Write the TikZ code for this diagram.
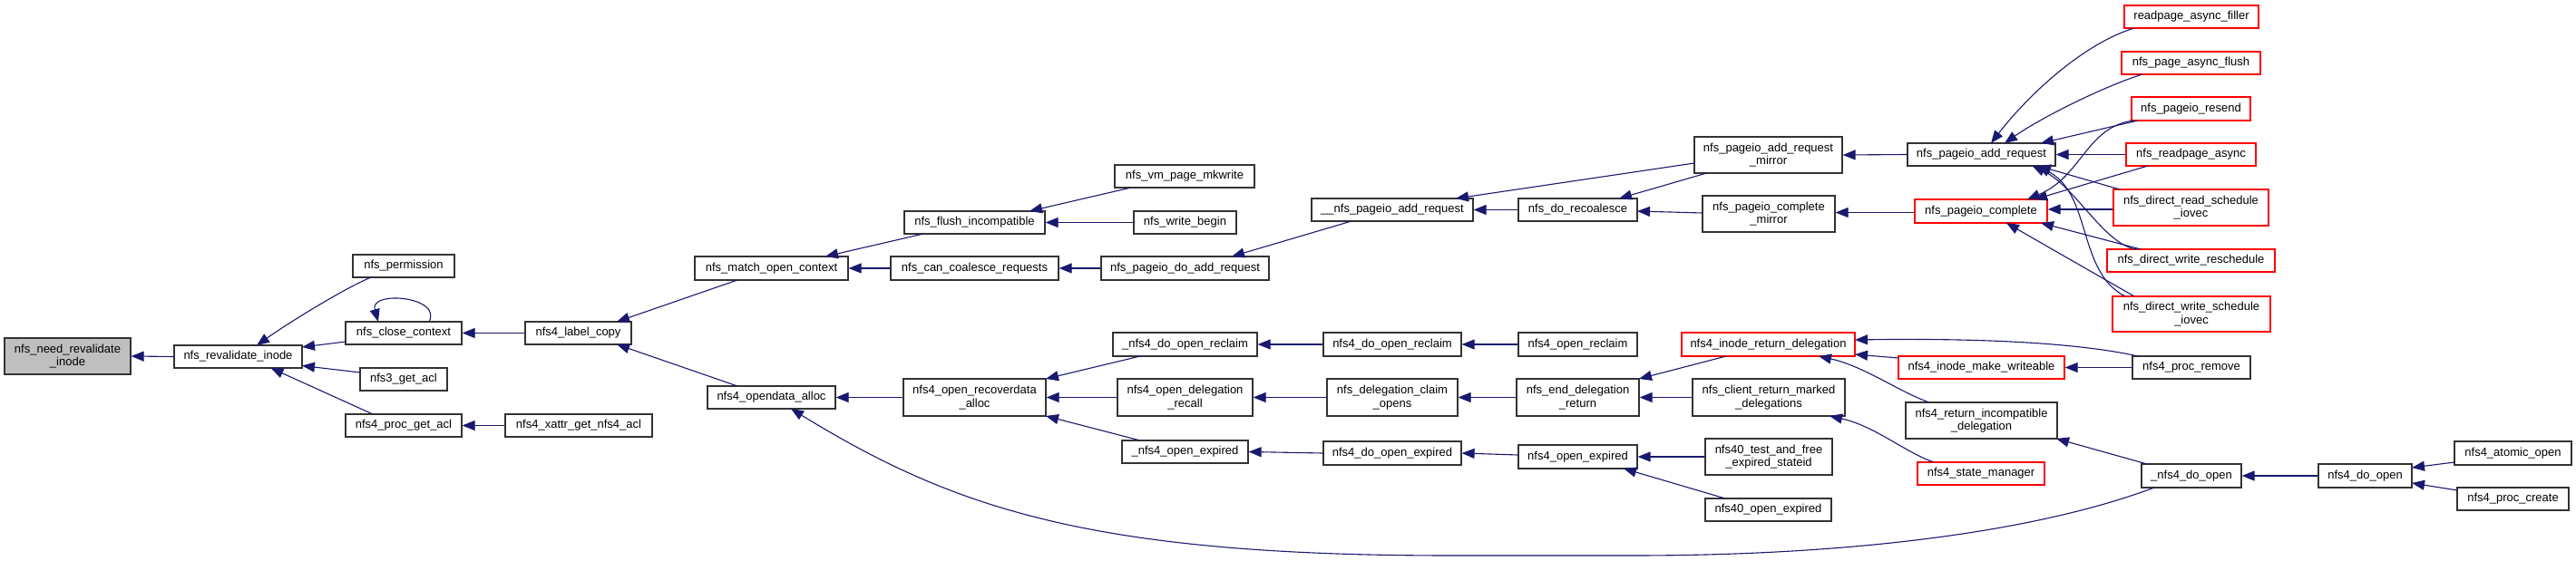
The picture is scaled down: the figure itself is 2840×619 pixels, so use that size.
\documentclass[tikz,border=0pt]{standalone}
\usepackage{fontspec}
\newfontfamily\libsans{Liberation Sans}
\usetikzlibrary{arrows.meta,calc}
\definecolor{edgeblue}{HTML}{191970}
\definecolor{curgray}{HTML}{BFBFBF}
\newcommand\nfnt{\libsans\fontsize{6.5}{7.2}\selectfont}
\tikzset{
  nd/.style={draw=black!80, line width=0.6pt, fill=white, inner sep=0pt, align=center, font=\nfnt},
  trunc/.style={nd, draw=red},
  cur/.style={nd, fill=curgray},
  sz/.style 2 args={minimum width=#1*0.5pt, minimum height=#2*0.5pt},
  edge/.style={draw=edgeblue, line width=0.55pt, -{Triangle[length=7pt,width=5.5pt]}},
}
\begin{document}
\begin{tikzpicture}[x=0.5pt,y=-0.5pt]
\useasboundingbox (0,0) rectangle (2840,619);
% nodes
\node[cur,sz={139}{40}] (need) at (74.5,393) {nfs\_need\_revalidate\\\_inode};
\node[nd,sz={141}{25}] (reval) at (262.5,393.5) {nfs\_revalidate\_inode};
\node[nd,sz={112}{25}] (perm) at (445,293.5) {nfs\_permission};
\node[nd,sz={128}{25}] (close) at (445,367.5) {nfs\_close\_context};
\node[nd,sz={96}{25}] (acl3) at (445,418.5) {nfs3\_get\_acl};
\node[nd,sz={128}{25}] (pgacl) at (445,469.5) {nfs4\_proc\_get\_acl};
\node[nd,sz={117}{25}] (label) at (637.5,367.5) {nfs4\_label\_copy};
\node[nd,sz={162}{25}] (xattr) at (638,469.5) {nfs4\_xattr\_get\_nfs4\_acl};
\node[nd,sz={169}{26}] (match) at (850.5,296) {nfs\_match\_open\_context};
\node[nd,sz={141}{25}] (odalloc) at (850.5,438.5) {nfs4\_opendata\_alloc};
\node[nd,sz={155}{25}] (flush) at (1074.5,245.5) {nfs\_flush\_incompatible};
\node[nd,sz={185}{26}] (canco) at (1074.5,296) {nfs\_can\_coalesce\_requests};
\node[nd,sz={157}{41}] (recov) at (1074.5,438.5) {nfs4\_open\_recoverdata\\\_alloc};
\node[nd,sz={154}{25}] (mkw) at (1306,194.5) {nfs\_vm\_page\_mkwrite};
\node[nd,sz={113}{25}] (wbeg) at (1306.5,245.5) {nfs\_write\_begin};
\node[nd,sz={185}{26}] (doadd) at (1306.5,296) {nfs\_pageio\_do\_add\_request};
\node[nd,sz={159}{26}] (dreclaimu) at (1306.5,380) {\_nfs4\_do\_open\_reclaim};
\node[nd,sz={149}{41}] (delrecall) at (1306.5,438.5) {nfs4\_open\_delegation\\\_recall};
\node[nd,sz={139}{25}] (oexpu) at (1306.5,498.5) {\_nfs4\_open\_expired};
\node[nd,sz={178}{25}] (uuadd) at (1535,231.5) {\_\_nfs\_pageio\_add\_request};
\node[nd,sz={152}{26}] (doreclaim) at (1535,380) {nfs4\_do\_open\_reclaim};
\node[nd,sz={144}{41}] (claim) at (1535,438.5) {nfs\_delegation\_claim\\\_opens};
\node[nd,sz={152}{26}] (doexp) at (1535,500) {nfs4\_do\_open\_expired};
\node[nd,sz={131}{25}] (recoal) at (1739.5,231.5) {nfs\_do\_recoalesce};
\node[nd,sz={131}{26}] (oreclaim) at (1739.5,380) {nfs4\_open\_reclaim};
\node[nd,sz={135}{41}] (enddel) at (1739.5,438.5) {nfs\_end\_delegation\\\_return};
\node[nd,sz={131}{26}] (oexp) at (1739.5,504) {nfs4\_open\_expired};
\node[nd,sz={163}{40}] (addmir) at (1949.5,171) {nfs\_pageio\_add\_request\\\_mirror};
\node[nd,sz={146}{40}] (compmir) at (1950,236) {nfs\_pageio\_complete\\\_mirror};
\node[trunc,sz={191}{26}] (iret) at (1949.5,380) {nfs4\_inode\_return\_delegation};
\node[nd,sz={168}{41}] (client) at (1950,438.5) {nfs\_client\_return\_marked\\\_delegations};
\node[nd,sz={140}{40}] (t40) at (1950,504) {nfs40\_test\_and\_free\\\_expired\_stateid};
\node[nd,sz={139}{25}] (o40) at (1949.5,562.5) {nfs40\_open\_expired};
\node[nd,sz={163}{25}] (padd) at (2184.5,170.5) {nfs\_pageio\_add\_request};
\node[trunc,sz={146}{26}] (pcomp) at (2184,233) {nfs\_pageio\_complete};
\node[trunc,sz={183}{25}] (mkwr) at (2184.5,405.5) {nfs4\_inode\_make\_writeable};
\node[nd,sz={167}{40}] (retinc) at (2184.5,464) {nfs4\_return\_incompatible\\\_delegation};
\node[trunc,sz={140}{25}] (stman) at (2184,522.5) {nfs4\_state\_manager};
\node[trunc,sz={148}{25}] (filler) at (2416,18.5) {readpage\_async\_filler};
\node[trunc,sz={153}{25}] (flushas) at (2415.5,69.5) {nfs\_page\_async\_flush};
\node[trunc,sz={131}{26}] (resend) at (2415.5,120) {nfs\_pageio\_resend};
\node[trunc,sz={143}{25}] (rpa) at (2415.5,170.5) {nfs\_readpage\_async};
\node[trunc,sz={171}{40}] (drs) at (2415.5,229) {nfs\_direct\_read\_schedule\\\_iovec};
\node[trunc,sz={185}{25}] (dwr) at (2415.5,287.5) {nfs\_direct\_write\_reschedule};
\node[trunc,sz={174}{39}] (dws) at (2416,346.5) {nfs\_direct\_write\_schedule\\\_iovec};
\node[nd,sz={130}{25}] (prem) at (2416,405.5) {nfs4\_proc\_remove};
\node[nd,sz={110}{26}] (udoopen) at (2416,525) {\_nfs4\_do\_open};
\node[nd,sz={103}{26}] (doopen) at (2607.5,525) {nfs4\_do\_open};
\node[nd,sz={129}{26}] (atomic) at (2770.5,500) {nfs4\_atomic\_open};
\node[nd,sz={123}{25}] (pcreate) at (2770.5,550.5) {nfs4\_proc\_create};
% edges
\draw[edge] (reval.west) -- (need.east);
\draw[edge] ($(perm)+(-36,12.5)$) .. controls +(-29,12) and +(37,-26) .. ($(reval)+(20.5,-12.5)$);
\draw[edge] ($(close)+(-64,9.5)$) -- ($(reval)+(70.5,-10.5)$);
\draw[edge] ($(acl3)+(-48,-7.5)$) -- ($(reval)+(70.5,10)$);
\draw[edge] ($(pgacl)+(-34,-12.5)$) -- ($(reval)+(36,12.5)$);
\draw[edge] ($(close)+(28,-12.5)$) .. controls +(15,-28) and +(-10,-35) .. ($(close)+(-28,-12.5)$);
\draw[edge] (label.west) -- (close.east);
\draw[edge] (xattr.west) -- (pgacl.east);
\draw[edge] ($(match)+(-37.5,13)$) -- ($(label)+(42.5,-12.5)$);
\draw[edge] ($(odalloc)+(-37.5,-12.5)$) -- ($(label)+(42.5,12.5)$);
\draw[edge] ($(flush)+(-56.5,12.5)$) -- ($(match)+(59.5,-13)$);
\draw[edge] (canco.west) -- (match.east);
\draw[edge] ($(mkw)+(-59,12.5)$) -- ($(flush)+(60.5,-12.5)$);
\draw[edge] (wbeg.west) -- (flush.east);
\draw[edge] (doadd.west) -- (canco.east);
\draw[edge] ($(uuadd)+(-45,12.5)$) -- ($(doadd)+(51.5,-13)$);
\draw[edge] (recoal.west) -- (uuadd.east);
\draw[edge] ($(addmir)+(-81.5,9)$) -- ($(uuadd)+(70,-12.5)$);
\draw[edge] ($(addmir)+(-68,20)$) -- ($(recoal)+(45.5,-12.5)$);
\draw[edge] ($(compmir)+(-73,-1)$) -- ($(recoal)+(65.5,1.5)$);
\draw[edge] (padd.west) -- (addmir.east);
\draw[edge] ($(pcomp.west)+(0,1.5)$) -- ($(compmir.east)+(0,-1.5)$);
\draw[edge] ($(filler)+(-63,12.5)$) .. controls +(-53,16) and +(45,-58) .. ($(padd)+(10.5,-12.5)$);
\draw[edge] ($(flushas)+(-53.5,12.5)$) .. controls +(-42,13) and +(40,-28) .. ($(padd)+(25.5,-12.5)$);
\draw[edge] ($(resend)+(-58.5,13)$) -- ($(padd)+(65.5,-12.5)$);
\draw[edge] (rpa.west) -- (padd.east);
\draw[edge] ($(drs)+(-78.5,-20)$) -- ($(padd)+(62.5,12.5)$);
\draw[edge] ($(dwr)+(-60.5,-12.5)$) .. controls +(-35,-5) and +(47,22) .. ($(padd)+(56,12.5)$);
\draw[edge] ($(dws)+(-73,-19.5)$) .. controls +(-53,-27) and +(60,32) .. ($(padd)+(62,12.5)$);
\draw[edge] ($(resend)+(-63.5,13)$) .. controls +(-52,7) and +(60,-25) .. ($(pcomp)+(51,-13)$);
\draw[edge] ($(rpa)+(-47.5,12.5)$) -- ($(pcomp)+(59,-13)$);
\draw[edge] ($(drs.west)+(0,2)$) -- ($(pcomp.east)+(0,-2)$);
\draw[edge] ($(dwr)+(-55.5,-12.5)$) -- ($(pcomp)+(66,13)$);
\draw[edge] ($(dws)+(-63,-19.5)$) -- ($(pcomp)+(28,13)$);
\draw[edge] (recov.west) -- (odalloc.east);
\draw[edge] ($(udoopen)+(-41,13)$) .. controls +(-125,47) and +(250,0) .. ++(-575,75) -- ++(-200,0) .. controls +(-400,0) and +(178,109) .. ($(odalloc)+(21.5,12.5)$);
\draw[edge] ($(dreclaimu)+(-49.5,13)$) -- ($(recov)+(78.5,-20.5)$);
\draw[edge] (delrecall.west) -- (recov.east);
\draw[edge] ($(oexpu)+(-49.5,-12.5)$) -- ($(recov)+(78.5,20.5)$);
\draw[edge] (doreclaim.west) -- (dreclaimu.east);
\draw[edge] (claim.west) -- (delrecall.east);
\draw[edge] (doexp.west) -- (oexpu.east);
\draw[edge] (oreclaim.west) -- (doreclaim.east);
\draw[edge] (enddel.west) -- (claim.east);
\draw[edge] ($(oexp.west)+(0,-2)$) -- (doexp.east);
\draw[edge] ($(iret)+(-46.5,13)$) -- ($(enddel)+(67.5,-20.5)$);
\draw[edge] (client.west) -- (enddel.east);
\draw[edge] (t40.west) -- (oexp.east);
\draw[edge] ($(o40)+(-47.5,-12.5)$) -- ($(oexp)+(50.5,13)$);
\draw[edge] ($(mkwr)+(-91.5,-10.5)$) -- ($(iret)+(95.5,11)$);
\draw[edge] ($(prem)+(-59,-12.5)$) .. controls +(-67,-15) and +(135,-2) .. ($(iret)+(95.5,-5)$);
\draw[edge] ($(retinc)+(-57.5,-20)$) .. controls +(-32,-11) and +(50,11) .. ($(iret)+(55.5,13)$);
\draw[edge] ($(stman)+(-52,-12.5)$) .. controls +(-32,-11) and +(50,11) .. ($(client)+(67,20.5)$);
\draw[edge] (prem.west) -- (mkwr.east);
\draw[edge] ($(udoopen)+(-49,-13)$) -- ($(retinc)+(82.5,20)$);
\draw[edge] (doopen.west) -- (udoopen.east);
\draw[edge] ($(atomic)+(-64.5,10)$) -- ($(doopen)+(51.5,-9)$);
\draw[edge] ($(pcreate)+(-61.5,-9.5)$) -- ($(doopen)+(51.5,8)$);
\end{tikzpicture}
\end{document}
